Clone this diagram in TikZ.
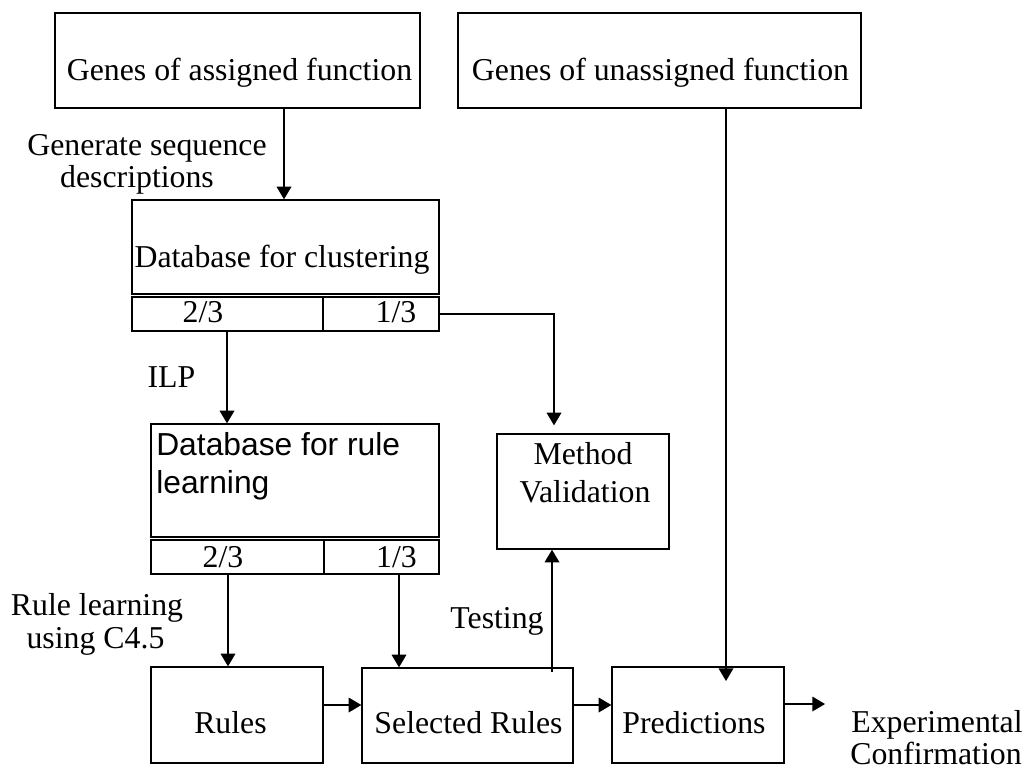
\documentclass[tikz,border=0pt]{standalone}
\usepackage{fontspec}
\setmainfont{Liberation Serif}
\newfontfamily\arialfont{Liberation Sans}
\usetikzlibrary{arrows.meta,fit}

\begin{document}
\begin{tikzpicture}[x=0.75pt,y=-0.75pt,
  box/.style={draw, line width=1pt, inner sep=0pt, rectangle},
  lbl/.style={inner sep=0pt, font=\fontsize{23.85}{28.5}\selectfont},
  arr/.style={line width=1pt, -{Triangle[length=9.5pt,width=11pt]}},
]
\useasboundingbox (0,0) rectangle (1023,769);
\fill[white] (0,0) rectangle (1023,769);

% ---- boxes ----
\node[box, fit={(55,13) (420,108)}] (assigned) {};
\node[box, fit={(458,13) (861,108)}] (unassigned) {};

\node[box, fit={(132,200) (439,294)}] (dbclust) {};
\node[box, fit={(132,297) (323,331)}] (dbclustA) {};
\node[box, fit={(323,297) (439,331)}] (dbclustB) {};

\node[box, fit={(151,424) (439,537)}] (dbrule) {};
\node[box, fit={(151,540) (324,574)}] (dbruleA) {};
\node[box, fit={(324,540) (439,574)}] (dbruleB) {};

\node[box, fit={(497,434) (669,549)}] (validation) {};
\node[box, fit={(151,667) (323,763)}] (rules) {};
\node[box, fit={(362,668) (573,763)}] (selected) {};
\node[box, fit={(612,667) (784,763)}] (predictions) {};

% ---- box texts ----
\node[lbl, anchor=base] (assignedtxt) at (239.5,80) {Genes of assigned function};
\node[lbl, anchor=base] (unassignedtxt) at (660.5,80) {Genes of unassigned function};
\node[lbl, anchor=base] (dbclusttxt) at (282,267) {Database for clustering};
\node[lbl, anchor=base] (dbclustAtxt) at (203,322) {2/3};
\node[lbl, anchor=base] (dbclustBtxt) at (396,322) {1/3};
\node[lbl, anchor=base west, font=\arialfont\fontsize{23.85}{28.5}\selectfont] (dbruletxtA) at (156,455) {Database for rule};
\node[lbl, anchor=base west, font=\arialfont\fontsize{23.85}{28.5}\selectfont] (dbruletxtB) at (156,493) {learning};
\node[lbl, anchor=base] (dbruleAtxt) at (223,567) {2/3};
\node[lbl, anchor=base] (dbruleBtxt) at (396.5,567) {1/3};
\node[lbl, anchor=base] (validationtxtA) at (583,464) {Method};
\node[lbl, anchor=base] (validationtxtB) at (585,502) {Validation};
\node[lbl, anchor=base] (rulestxt) at (230.5,733) {Rules};
\node[lbl, anchor=base] (selectedtxt) at (468.5,733) {Selected Rules};
\node[lbl, anchor=base] (predictionstxt) at (694,733) {Predictions};

% ---- free labels ----
\node[lbl, anchor=base] (genA) at (147,155) {Generate sequence};
\node[lbl, anchor=base] (genB) at (137,187) {descriptions};
\node[lbl, anchor=base] (ilp) at (171.5,387) {ILP};
\node[lbl, anchor=base] (learnA) at (97,615) {Rule learning};
\node[lbl, anchor=base] (learnB) at (95.5,648) {using C4.5};
\node[lbl, anchor=base] (testing) at (497,628) {Testing};
\node[lbl, anchor=base] (expA) at (937,732) {Experimental};
\node[lbl, anchor=base] (expB) at (936,764) {Confirmation};

% ---- connectors ----
\draw[arr] (284,0 |- assigned.south) -- (284,0 |- dbclust.north);
\draw[arr] (227,0 |- dbclustA.south) -- (227,0 |- dbrule.north);
\draw[arr] (dbclustB.east) -- (554,0 |- dbclustB.east) -- ([yshift=6pt]554,0 |- validation.north);
\draw[arr] (228,0 |- dbruleA.south) -- (228,0 |- rules.north);
\draw[arr] (399,0 |- dbruleB.south) -- (399,0 |- selected.north);
\draw[arr] (rules.east |- 0,705) -- (selected.west |- 0,705);
\draw[arr] (selected.east |- 0,705) -- (predictions.west |- 0,705);
\draw[arr] ([yshift=-3.75pt]552,0 |- selected.north) -- (552,0 |- validation.south);
\draw[arr] (726,0 |- unassigned.south) -- ([yshift=-11pt]726,0 |- predictions.north);
\coordinate (expend) at (825,704);
\draw[arr] (predictions.east |- expend) -- (expend);
\end{tikzpicture}
\end{document}
